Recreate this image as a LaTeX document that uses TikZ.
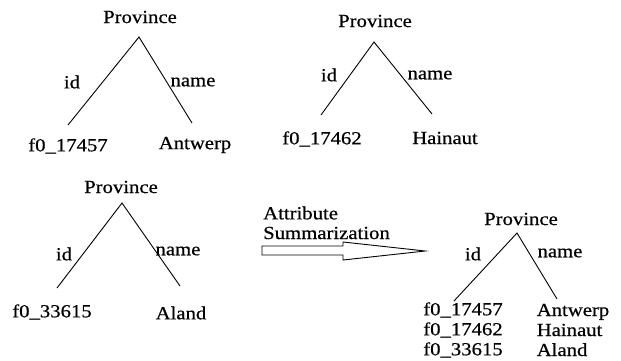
\documentclass[tikz,border=0pt]{standalone}
\usepackage{fontspec}
\setmainfont{Liberation Serif}[BoldFont=Liberation Serif, BoldFeatures={FakeBold=0.5}]
\newcommand{\wide}[1]{\scalebox{1.12}[1]{#1}}
\tikzset{
  lbl/.style={inner sep=0pt, font=\fontsize{18.5}{20}\selectfont\bfseries, text=black},
  edge/.style={draw=black, line width=0.9pt},
  bigarrow/.style={draw=black, line width=0.9pt, fill=white}
}
\begin{document}
\begin{tikzpicture}[x=1pt,y=-1pt]
\useasboundingbox[fill=white] (0,0) rectangle (621,360);
% Tree 1
\node[lbl] (p1) at (140,17) {\wide{Province}};
\coordinate (a1) at (139,37);
\coordinate (l1) at (68,125);
\coordinate (r1) at (192,123);
\draw[edge] (l1) -- (a1) -- (r1);
\node[lbl] (id1) at (72,82) {\wide{id}};
\node[lbl] (nm1) at (193,82) {\wide{name}};
\node[lbl] (v1) at (68,146) {\wide{f0\_17457}};
\node[lbl] (w1) at (195,145) {\wide{Antwerp}};
% Tree 2
\node[lbl] (p2) at (375,21) {\wide{Province}};
\coordinate (a2) at (374,42);
\coordinate (l2) at (321,115);
\coordinate (r2) at (432,114);
\draw[edge] (l2) -- (a2) -- (r2);
\node[lbl] (id2) at (329,75) {\wide{id}};
\node[lbl] (nm2) at (430,75) {\wide{name}};
\node[lbl] (v2) at (322,139) {\wide{f0\_17462}};
\node[lbl] (w2) at (445,138) {\wide{Hainaut}};
% Tree 3
\node[lbl] (p3) at (121,187) {\wide{Province}};
\coordinate (a3) at (122,203);
\coordinate (l3) at (57,288);
\coordinate (r3) at (180,286);
\draw[edge] (l3) -- (a3) -- (r3);
\node[lbl] (id3) at (64,254) {\wide{id}};
\node[lbl] (nm3) at (178,251) {\wide{name}};
\node[lbl] (v3) at (52,312) {\wide{f0\_33615}};
\node[lbl] (w3) at (181,313) {\wide{Aland}};
% Arrow
\node[lbl, anchor=west] (t1) at (263,213) {\wide{Attribute}};
\node[lbl, anchor=west] (t2) at (263,233) {\wide{Summarization}};
\draw[bigarrow] (262,246) -- (343,246) -- (343,242) -- (407,249) -- (425,251) -- (407,253) -- (343,260) -- (343,255) -- (262,255) -- cycle;
% Tree 4
\node[lbl] (p4) at (521,219) {\wide{Province}};
\coordinate (a4) at (517,233);
\coordinate (l4) at (454,301);
\coordinate (r4) at (557,299);
\draw[edge] (l4) -- (a4) -- (r4);
\node[lbl] (id4) at (473,254) {\wide{id}};
\node[lbl] (nm4) at (560,253) {\wide{name}};
\node[lbl, align=left] (v4) at (463,330) {\wide{f0\_17457}\\\wide{f0\_17462}\\\wide{f0\_33615}};
\node[lbl, align=left] (w4) at (573,330) {\wide{Antwerp}\\\wide{Hainaut}\\\wide{Aland}};
\end{tikzpicture}
\end{document}
